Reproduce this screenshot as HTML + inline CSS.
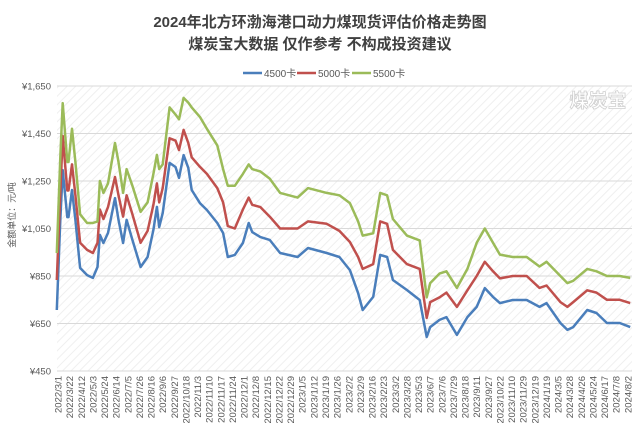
<!DOCTYPE html>
<html><head><meta charset="utf-8"><style>
body{margin:0;background:#fff;}
svg{display:block;font-family:"Liberation Sans","Noto Sans CJK SC",sans-serif;}
</style></head><body>
<svg id="chart" width="640" height="433" viewBox="0 0 640 433">
<defs>
<pattern id="hatch" width="6" height="6" patternUnits="userSpaceOnUse" patternTransform="rotate(45)">
<rect width="6" height="6" fill="#fff"/><line x1="0" y1="0" x2="0" y2="6" stroke="#efefef" stroke-width="2"/>
</pattern>
</defs>
<text x="320" y="27" text-anchor="middle" font-size="15" font-weight="bold" fill="#404040">2024年北方环渤海港口动力煤现货评估价格走势图</text>
<text x="320" y="49" text-anchor="middle" font-size="15" font-weight="bold" fill="#404040">煤炭宝大数据 仅作参考 不构成投资建议</text>
<g font-size="10" fill="#595959">
<g><line x1="243" y1="73" x2="262" y2="73" stroke="#4a7ebb" stroke-width="2.5"/><text x="264" y="77">4500卡</text></g>
<g><line x1="297" y1="73" x2="316" y2="73" stroke="#c0504d" stroke-width="2.5"/><text x="318" y="77">5000卡</text></g>
<g><line x1="352" y1="73" x2="371" y2="73" stroke="#9bbb59" stroke-width="2.5"/><text x="373" y="77">5500卡</text></g>
</g>
<rect x="57" y="86" width="575" height="285" fill="url(#hatch)"/>
<text x="598" y="107" text-anchor="middle" font-size="19" font-weight="bold" fill="#fff" stroke="#d0d0d0" stroke-width="0.8">煤炭宝</text>
<text transform="translate(15,215) rotate(-90)" text-anchor="middle" font-size="9" fill="#595959">金额单位：元/吨</text>
<g id="grid"></g><g id="yt"></g><g id="xt"></g><g id="series"></g>
</svg>
<script>
const yTicks=[450,650,850,1050,1250,1450,1650];
const xLabels=["2022/3/1","2022/3/22","2022/4/12","2022/5/3","2022/5/24","2022/6/14","2022/7/5","2022/7/26","2022/8/16","2022/9/6","2022/9/27","2022/10/18","2022/11/3","2022/11/10","2022/11/17","2022/11/24","2022/12/1","2022/12/8","2022/12/15","2022/12/22","2022/12/29","2023/1/5","2023/1/12","2023/1/19","2023/1/26","2023/2/2","2023/2/9","2023/2/16","2023/2/23","2023/3/2","2023/3/28","2023/5/3","2023/6/7","2023/7/6","2023/7/29","2023/8/18","2023/9/11","2023/9/27","2023/10/22","2023/11/10","2023/11/29","2023/12/19","2024/1/19","2024/3/5","2024/3/28","2024/4/26","2024/5/24","2024/6/17","2024/7/8","2024/8/2"];
const t=[-0.1,0.2,0.4,0.8,0.9,1.2,1.5,1.9,2.5,3.0,3.4,3.6,3.9,4.3,4.9,5.2,5.6,5.9,6.4,7.1,7.7,8.2,8.5,8.7,9.0,9.6,10.1,10.4,10.8,11.2,11.5,12.2,12.8,13.7,14.2,14.6,15.2,15.9,16.4,16.7,17.4,18.2,19.1,20.6,21.5,23.1,24.2,25.1,25.8,26.2,27.1,27.7,28.3,28.8,30.0,31.1,31.7,32.0,32.8,33.4,34.3,35.2,36.0,36.7,37.4,38.0,39.1,40.3,41.4,42.0,43.2,43.8,44.3,45.5,46.3,47.2,48.3,49.2];
const s4500=[707,1086,1296,1098,1098,1212,1086,884,854,842,888,1023,989,1031,1178,1086,989,1086,1002,888,930,1044,1141,1056,1115,1326,1309,1263,1359,1305,1212,1157,1128,1073,1031,930,939,989,1073,1035,1014,1002,947,930,968,947,930,875,778,707,762,939,930,833,791,749,593,635,665,677,602,677,720,799,762,736,749,749,720,736,652,623,635,707,694,652,652,635];
const s5000=[833,1200,1440,1210,1210,1320,1190,990,960,947,990,1130,1090,1140,1267,1190,1100,1190,1110,990,1040,1150,1240,1160,1220,1430,1420,1380,1465,1410,1350,1310,1280,1220,1160,1060,1050,1130,1180,1150,1140,1100,1050,1050,1080,1070,1040,993,930,880,900,1080,1070,960,900,880,673,740,760,780,720,790,850,910,870,840,850,850,800,810,740,720,740,790,780,750,750,736];
const s5500=[947,1350,1578,1330,1330,1470,1330,1110,1073,1073,1080,1250,1200,1240,1410,1330,1200,1300,1230,1120,1160,1280,1360,1300,1320,1560,1530,1510,1600,1580,1560,1520,1470,1400,1300,1230,1230,1280,1320,1300,1290,1260,1200,1180,1220,1200,1190,1157,1080,1020,1030,1200,1190,1090,1020,1000,760,820,860,870,800,880,990,1050,990,940,930,930,890,910,850,820,830,880,870,850,850,842];
const NS="http://www.w3.org/2000/svg";
const X0=58,DX=11.63,Y0=86,H=285,VMIN=450,VMAX=1650;
const xs=i=>X0+i*DX;
const ys=v=>Y0+(VMAX-v)/(VMAX-VMIN)*H;
function mk(tag,attrs,parent){const e=document.createElementNS(NS,tag);for(const k in attrs)e.setAttribute(k,attrs[k]);parent.appendChild(e);return e;}
const g=document.getElementById('grid'),yt=document.getElementById('yt'),xt=document.getElementById('xt'),sr=document.getElementById('series');
yTicks.forEach(v=>{
 const l=mk('line',{x1:57,x2:632,y1:ys(v),y2:ys(v),stroke:'#d9d9d9','stroke-width':1},g);
 
 
 const tx=mk('text',{x:51,y:ys(v)+3.5,'text-anchor':'end','font-size':9.5,fill:'#595959'},yt);
 tx.textContent='¥'+v.toLocaleString('en-US');
 
 
});
xLabels.forEach((s,i)=>{
 const tx=mk('text',{transform:`translate(${xs(i)+3.5},376) rotate(-90)`,'text-anchor':'end','font-size':9.5,fill:'#595959'},xt);
 tx.textContent=s;
 
 
});
[[s4500,'#4a7ebb','series-4500'],[s5000,'#c0504d','series-5000'],[s5500,'#9bbb59','series-5500']].forEach(([d,c,n])=>{
 const pts=d.map((v,i)=>xs(t[i]).toFixed(1)+','+ys(v).toFixed(1)).join(' ');
 const p=mk('polyline',{points:pts,fill:'none',stroke:c,'stroke-width':2.5,'stroke-linejoin':'round'},sr);
 
 
});
</script>
</body></html>
